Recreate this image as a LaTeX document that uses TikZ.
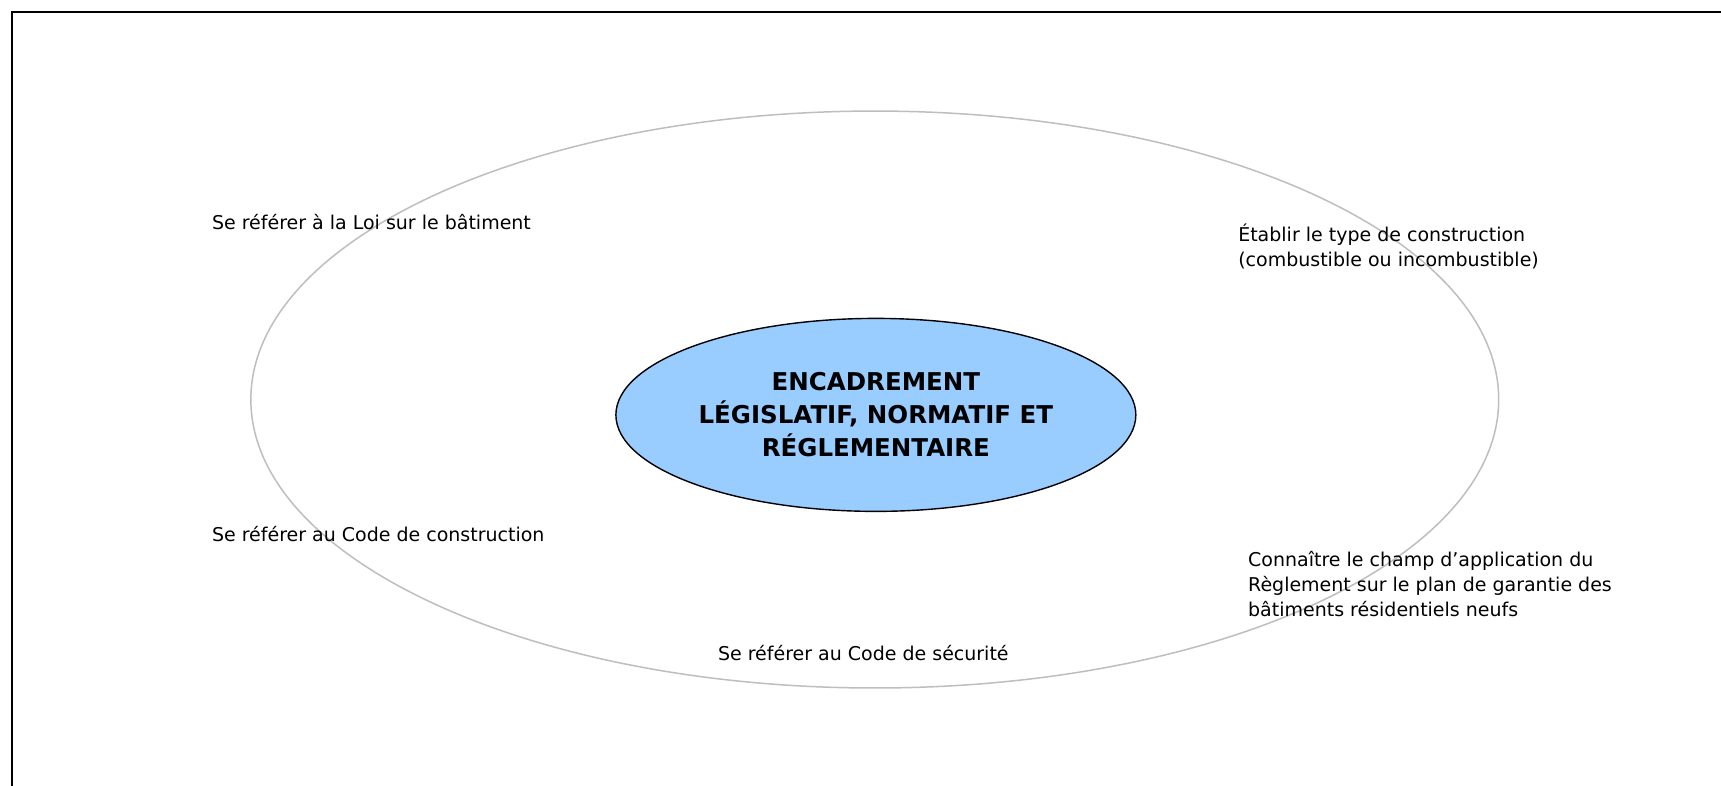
\documentclass[tikz,border=0pt]{standalone}
\usepackage{fontspec}
\setmainfont{DejaVu Sans}
\usetikzlibrary{shapes.geometric}
\definecolor{ringgray}{RGB}{190,190,190}
\definecolor{coreblue}{RGB}{153,204,255}
\tikzset{
  lbl/.style={inner sep=0pt, align=left, font=\fontsize{19}{25.2}\selectfont},
  ring/.style={ellipse, draw=ringgray, line width=1.5pt, inner sep=0pt},
  core/.style={ellipse, draw=black, fill=coreblue, line width=1.4pt, inner sep=0pt, align=center, font=\fontsize{24.5}{33}\selectfont\bfseries}
}
\begin{document}
\begin{tikzpicture}[x=1.0977pt,y=-1.0977pt]
\useasboundingbox (0,0) rectangle (1568,716);
\clip (0,0) rectangle (1568,716);
\fill[white] (0,0) rectangle (1568,716);
\draw[line width=2.4pt] (11,11) rectangle (1700,850);
\node[ring, minimum width=1248pt, minimum height=577pt] (outer) at (797,364) {};
\node[core, minimum width=520pt, minimum height=193pt] (center) at (798,378) {ENCADREMENT\\L\'EGISLATIF, NORMATIF ET\\R\'EGLEMENTAIRE};
\node[lbl, anchor=west] (loi) at (193,202) {Se référer à la Loi sur le bâtiment};
\node[lbl, anchor=west] (type) at (1128,224.5) {Établir le type de construction\\(combustible ou incombustible)};
\node[lbl, anchor=west] (code) at (193,487) {Se référer au Code de construction};
\node[lbl, anchor=west] (champ) at (1137,532) {Connaître le champ d’application du\\Règlement sur le plan de garantie des\\bâtiments résidentiels neufs};
\node[lbl, anchor=west] (secu) at (654,595) {Se référer au Code de sécurité};
\end{tikzpicture}
\end{document}
